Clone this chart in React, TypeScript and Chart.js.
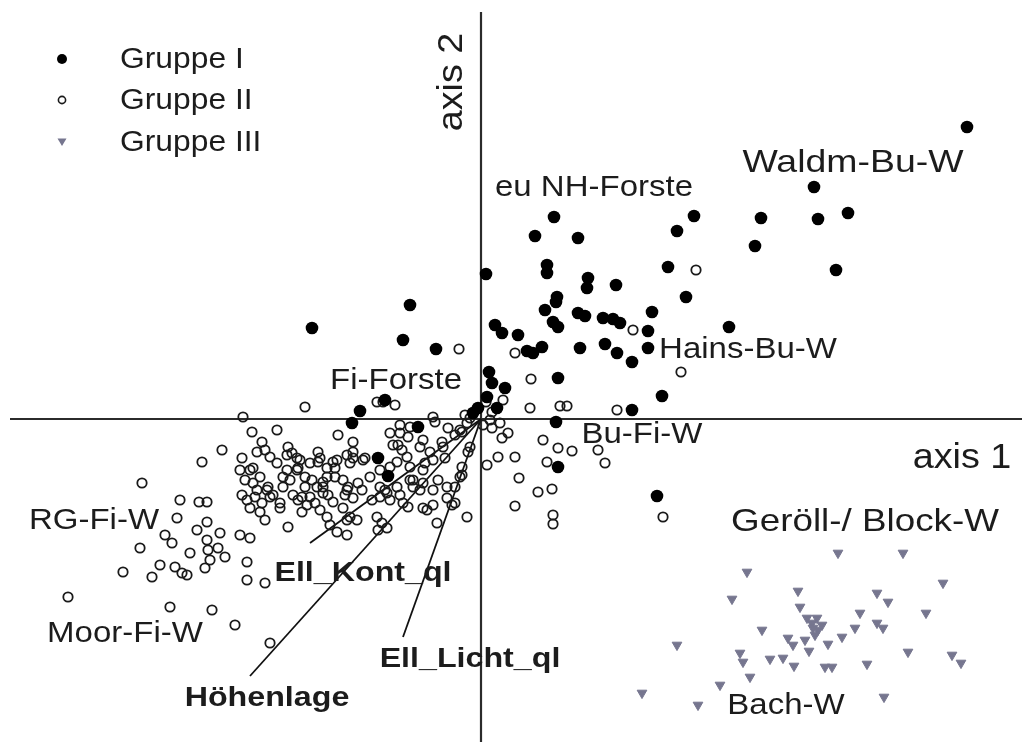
import { useEffect, useRef } from "react";
import { Chart, registerables } from "chart.js";

Chart.register(...registerables);

// Ordination scores (axis 1, axis 2) for the three plot groups
const gruppeI: [number, number][] = [
  [4.86, 2.92], [3.33, 2.32], [3.67, 2.06], [3.37, 2.0], [2.8, 2.01], [2.74, 1.73],
  [3.55, 1.49], [2.13, 2.03], [1.96, 1.88], [1.87, 1.52], [2.05, 1.22], [2.48, 0.92],
  [0.73, 2.02], [0.54, 1.83], [0.97, 1.81], [0.05, 1.45], [0.66, 1.54], [0.66, 1.46],
  [1.07, 1.41], [1.06, 1.31], [1.35, 1.34], [0.76, 1.22], [0.75, 1.17], [0.64, 1.09],
  [1.71, 1.07], [0.72, 0.97], [0.77, 0.92], [0.97, 1.06], [1.04, 1.03], [1.22, 1.01],
  [1.32, 1.0], [1.39, 0.96], [0.14, 0.94], [0.21, 0.86], [0.37, 0.84], [0.61, 0.72],
  [0.52, 0.66], [0.46, 0.68], [0.99, 0.71], [1.24, 0.75], [1.36, 0.66], [1.51, 0.57],
  [1.67, 0.88], [1.67, 0.71], [0.08, 0.47], [0.77, 0.41], [0.24, 0.31], [0.06, 0.22],
  [1.81, 0.23], [1.51, 0.09], [0.75, -0.03], [-0.71, 1.14], [-1.69, 0.91], [-0.78, 0.79],
  [-0.45, 0.7], [-1.21, 0.08], [-1.29, -0.04], [-1.03, -0.39], [-0.63, -0.08], [-0.96, 0.19],
  [-0.03, 0.11], [0.16, 0.11], [0.77, -0.48], [1.76, -0.77], [-0.08, 0.06], [0.11, 0.36],
  [-0.93, -0.57],
];

const gruppeII: [number, number][] = [
  // right of axis 2
  [2.15, 1.49], [2.0, 0.47], [-0.22, 0.7], [1.52, 0.89], [0.34, 0.66], [0.5, 0.4],
  [0.49, 0.11], [0.79, 0.13], [0.86, 0.13], [1.36, 0.09], [0.22, 0.19], [0.62, -0.21],
  [0.77, -0.29], [0.91, -0.32], [1.17, -0.31], [1.24, -0.44], [0.66, -0.43], [0.38, -0.59],
  [0.06, -0.46], [0.17, -0.38], [0.34, -0.38], [0.57, -0.73], [0.71, -0.7], [0.34, -0.87],
  [0.72, -0.96], [0.72, -1.05], [0.11, -0.09], [0.19, -0.04], [0.27, -0.14], [0.21, -0.19],
  [0.09, -0.01], [1.82, -0.98], [0.05, 0.17], [0.11, 0.07], [0.02, -0.06],
  // close to the origin, left side
  [-0.86, 0.14], [-0.46, -0.03], [-0.33, -0.09], [-0.14, -0.98], [-0.44, -1.04], [-0.58, -0.89],
  [-0.34, -0.68], [-0.26, -0.84], [-0.19, -0.56], [-0.11, -0.28], [-0.39, -0.23], [-0.36, -0.39],
  [-0.58, -0.51], [-0.71, -0.61], [-0.96, -0.71], [-0.81, -0.76], [-0.83, -0.26], [-0.21, -0.58],
  [-0.21, -0.11], [-0.16, 0.04], [-0.26, -0.16], [-0.48, 0.02],
  // main cluster
  [-2.38, 0.02], [-1.76, 0.12], [-1.04, 0.17], [-0.98, 0.17], [-2.29, -0.13], [-2.04, -0.11],
  [-2.59, -0.31], [-2.79, -0.43], [-1.43, -0.16], [-1.28, -0.23], [-0.91, -0.14], [-0.81, -0.14],
  [-0.71, -0.08], [-2.19, -0.23], [-2.16, -0.31], [-2.24, -0.33], [-2.39, -0.39], [-1.93, -0.28],
  [-1.89, -0.34], [-2.11, -0.38], [-2.04, -0.44], [-1.63, -0.33], [-1.61, -0.39], [-1.81, -0.41],
  [-1.83, -0.49], [-1.44, -0.41], [-1.46, -0.49], [-1.34, -0.36], [-1.28, -0.39], [-1.16, -0.39],
  [-0.88, -0.26], [-0.79, -0.31], [-0.61, -0.28], [-0.51, -0.33], [-0.56, -0.44], [-0.84, -0.43],
  [-0.71, -0.48], [-1.01, -0.51], [-1.11, -0.58], [-2.41, -0.51], [-2.31, -0.51], [-2.36, -0.61],
  [-2.28, -0.64], [-2.21, -0.58], [-2.13, -0.68], [-1.98, -0.58], [-1.91, -0.61], [-1.98, -0.68],
  [-1.76, -0.58], [-1.69, -0.61], [-1.76, -0.68], [-1.54, -0.58], [-1.58, -0.68], [-1.38, -0.61],
  [-1.33, -0.68], [-1.23, -0.64], [-1.19, -0.71], [-1.01, -0.68], [-0.94, -0.74], [-0.84, -0.68],
  [-0.68, -0.61], [-0.61, -0.71], [-0.48, -0.71], [-2.39, -0.76], [-2.34, -0.81], [-2.26, -0.78],
  [-2.19, -0.84], [-2.08, -0.76], [-2.01, -0.84], [-1.88, -0.76], [-1.83, -0.81], [-1.71, -0.78],
  [-1.66, -0.84], [-1.53, -0.76], [-1.48, -0.83], [-1.36, -0.76], [-1.28, -0.79], [-1.09, -0.81],
  [-1.01, -0.78], [-0.91, -0.81], [-0.78, -0.84], [-2.31, -0.89], [-2.21, -0.93], [-2.01, -0.89],
  [-1.79, -0.93], [-1.74, -0.86], [-1.61, -0.91], [-1.54, -0.98], [-1.38, -0.89], [-1.31, -0.98],
  [-1.24, -1.01], [-1.04, -0.98], [-0.99, -1.04], [-0.94, -1.09], [-0.73, -0.88], [-0.48, -0.86],
  [-2.16, -1.01], [-1.93, -1.08], [-1.51, -1.06], [-1.44, -1.13], [-1.34, -1.16], [-1.34, -1.01],
  [-1.03, -1.11], [-2.28, -0.49], [-2.24, -0.71], [-2.14, -0.71], [-2.11, -0.78], [-1.94, -0.36],
  [-1.84, -0.39], [-1.94, -0.51], [-1.84, -0.51], [-1.64, -0.68], [-1.58, -0.63], [-1.79, -0.78],
  [-1.58, -0.74], [-1.63, -0.43], [-1.71, -0.44], [-1.54, -0.49], [-1.48, -0.43], [-1.46, -0.58],
  [-1.34, -0.71], [-1.31, -0.44], [-1.28, -0.33], [-1.18, -0.41], [-0.81, -0.06], [-0.73, -0.18],
  [-0.58, -0.21], [-0.91, -0.48], [-0.74, -0.38], [-0.48, -0.41], [-0.43, -0.61], [-0.68, -0.68],
  [-0.58, -0.64], [-0.38, -0.28], [-0.19, -0.13], [-0.14, -0.04], [-0.11, 0.01], [-0.34, -0.79],
  [-0.54, -0.91], [-0.13, -0.33], [-0.19, -0.48], [-0.26, -0.68], [-0.29, -0.86],
  // lower left
  [-3.39, -0.64], [-3.01, -0.81], [-2.82, -0.83], [-2.74, -0.83], [-3.04, -0.99], [-2.84, -1.11],
  [-2.74, -1.03], [-3.16, -1.16], [-3.09, -1.24], [-3.41, -1.29], [-2.74, -1.21], [-2.73, -1.31],
  [-2.61, -1.14], [-2.41, -1.16], [-2.31, -1.19], [-2.91, -1.34], [-2.63, -1.29], [-2.56, -1.38],
  [-2.71, -1.41], [-3.21, -1.46], [-3.29, -1.58], [-3.06, -1.48], [-2.99, -1.54], [-2.94, -1.56],
  [-2.76, -1.49], [-3.58, -1.53], [-2.34, -1.43], [-2.34, -1.61], [-2.16, -1.64], [-4.13, -1.78],
  [-3.11, -1.88], [-2.69, -1.91], [-2.46, -2.06], [-2.11, -2.24],
];

const gruppeIII: [number, number][] = [
  [3.57, -1.34], [4.22, -1.34], [2.66, -1.53], [4.62, -1.64], [3.17, -1.72], [2.51, -1.8],
  [3.96, -1.74], [4.07, -1.83], [3.19, -1.88], [3.79, -1.94], [4.45, -1.94], [3.26, -1.99],
  [3.36, -1.99], [3.31, -2.04], [3.96, -2.04], [4.02, -2.09], [2.81, -2.11], [3.37, -2.11],
  [3.34, -2.16], [3.74, -2.09], [3.61, -2.18], [3.07, -2.19], [3.12, -2.26], [3.24, -2.21],
  [3.47, -2.25], [1.96, -2.26], [3.28, -2.32], [2.59, -2.34], [2.62, -2.43], [2.89, -2.4],
  [3.02, -2.39], [3.13, -2.47], [3.44, -2.48], [3.51, -2.48], [3.86, -2.45], [4.27, -2.33],
  [4.71, -2.36], [4.8, -2.44], [2.69, -2.58], [2.39, -2.66], [1.61, -2.74], [2.17, -2.86],
  [4.03, -2.78], [3.32, -2.09], [3.41, -2.06],
];

// Environmental vectors (biplot arrows from the origin)
const vectorNames = ["Höhenlage", "Ell_Kont_ql", "Ell_Licht_ql"];
const vectorEnds: [number, number][] = [
  [-2.31, -2.57],
  [-1.71, -1.24],
  [-0.78, -2.18],
];

// Plot extent and drawn axis lines
const axis1Range: [number, number] = [-4.81, 5.41];
const axis2Range: [number, number] = [-3.23, 4.19];
const axis1Line: [number, number] = [-4.71, 5.41];
const axis2Line: [number, number] = [-3.23, 4.07];

// Vegetation type labels: text, position, font size, horizontal stretch
const typeLabels = [
  "Waldm-Bu-W", "eu NH-Forste", "Hains-Bu-W", "Fi-Forste", "Bu-Fi-W",
  "RG-Fi-W", "Moor-Fi-W", "Geröll-/ Block-W", "Bach-W",
];
const typeLabelPos: [number, number][] = [
  [3.72, 2.56], [1.13, 2.31], [2.67, 0.69], [-0.85, 0.38], [1.61, -0.16],
  [-3.87, -1.02], [-3.56, -2.15], [3.84, -1.03], [3.05, -2.87],
];
const typeLabelSize = [32, 30, 30, 30, 30, 30, 30, 32, 30];
const typeLabelStretch = [1.17, 1.1, 1.1, 1.1, 1.1, 1.1, 1.1, 1.15, 1.1];
const vectorLabelPos: [number, number][] = [
  [-2.14, -2.79],
  [-1.18, -1.54],
  [-0.11, -2.4],
];
const legendNames = ["Gruppe I", "Gruppe II", "Gruppe III"];

const TRIANGLE_COLOR = "#76768f";
const TEXT_COLOR = "#1c1c1c";
const FONT = "'Liberation Sans', Arial, Helvetica, sans-serif";

const toPoints = (arr: [number, number][]) => arr.map(([x, y]) => ({ x, y }));

function stretchedText(
  ctx: CanvasRenderingContext2D,
  text: string,
  x: number,
  y: number,
  font: string,
  sx: number,
  angle = 0,
  align: CanvasTextAlign = "center"
) {
  ctx.save();
  ctx.translate(x, y);
  if (angle) ctx.rotate(angle);
  ctx.scale(sx, 1);
  ctx.font = font;
  ctx.fillStyle = TEXT_COLOR;
  ctx.textAlign = align;
  ctx.textBaseline = "middle";
  ctx.fillText(text, 0, 0);
  ctx.restore();
}

const annotationPlugin = {
  id: "ordinationAnnotations",
  afterDatasetsDraw(chart: any) {
    const { ctx, scales } = chart;
    const sx = scales.x;
    const sy = scales.y;

    typeLabels.forEach((t, i) => {
      const [x, y] = typeLabelPos[i];
      stretchedText(
        ctx, t, sx.getPixelForValue(x), sy.getPixelForValue(y),
        `${typeLabelSize[i]}px ${FONT}`, typeLabelStretch[i]
      );
    });
    vectorNames.forEach((t, i) => {
      const [x, y] = vectorLabelPos[i];
      stretchedText(ctx, t, sx.getPixelForValue(x), sy.getPixelForValue(y), `bold 28px ${FONT}`, 1.15);
    });

    // axis titles
    const axisFont = `35px ${FONT}`;
    stretchedText(ctx, "axis 1", sx.getPixelForValue(4.81), sy.getPixelForValue(-0.39), axisFont, 1.08);
    stretchedText(ctx, "axis 2", sx.getPixelForValue(-0.29), sy.getPixelForValue(3.37), axisFont, 1.08, -Math.PI / 2);

    // legend
    const left = chart.chartArea.left;
    const top = chart.chartArea.top;
    const markerX = left + 62;
    const rows = [59, 100, 142];
    ctx.save();
    ctx.beginPath();
    ctx.arc(markerX, top + rows[0], 5, 0, Math.PI * 2);
    ctx.fillStyle = "#000";
    ctx.fill();
    ctx.beginPath();
    ctx.arc(markerX, top + rows[1], 3.6, 0, Math.PI * 2);
    ctx.lineWidth = 1.6;
    ctx.strokeStyle = "#1a1a1a";
    ctx.stroke();
    const ty = top + rows[2];
    ctx.beginPath();
    ctx.moveTo(markerX - 4.5, ty - 3.5);
    ctx.lineTo(markerX + 4.5, ty - 3.5);
    ctx.lineTo(markerX, ty + 4);
    ctx.closePath();
    ctx.fillStyle = TRIANGLE_COLOR;
    ctx.fill();
    ctx.restore();

    legendNames.forEach((t, i) => {
      stretchedText(ctx, t, left + 120, top + rows[i] + 1, `30px ${FONT}`, 1.06, 0, "left");
    });
  },
};

export default function App() {
  const canvasRef = useRef<HTMLCanvasElement | null>(null);

  useEffect(() => {
    if (!canvasRef.current) return;

    const lineDs = (data: { x: number; y: number }[], color: string, width: number, order: number) => ({
      type: "line" as const,
      data,
      borderColor: color,
      borderWidth: width,
      pointRadius: 0,
      fill: false,
      showLine: true,
      order,
    });

    const datasets: any[] = [
      lineDs([{ x: axis1Line[0], y: 0 }, { x: axis1Line[1], y: 0 }], "#2b2b2b", 2.2, 20),
      lineDs([{ x: 0, y: axis2Line[0] }, { x: 0, y: axis2Line[1] }], "#2b2b2b", 2.2, 20),
      ...vectorEnds.map(([x, y]) => lineDs([{ x: 0, y: 0 }, { x, y }], "#111", 1.8, 15)),
      {
        label: legendNames[1],
        data: toPoints(gruppeII),
        pointStyle: "circle",
        pointRadius: 4.7,
        pointBackgroundColor: "rgba(0,0,0,0)",
        pointBorderColor: "#1a1a1a",
        pointBorderWidth: 1.8,
        order: 3,
      },
      {
        label: legendNames[2],
        data: toPoints(gruppeIII),
        pointStyle: "triangle",
        rotation: 180,
        pointRadius: 5.6,
        pointBackgroundColor: TRIANGLE_COLOR,
        pointBorderColor: TRIANGLE_COLOR,
        pointBorderWidth: 1,
        order: 2,
      },
      {
        label: legendNames[0],
        data: toPoints(gruppeI),
        pointStyle: "circle",
        pointRadius: 6.3,
        pointBackgroundColor: "#000",
        pointBorderColor: "#000",
        pointBorderWidth: 0,
        order: 1,
      },
    ];

    const chart = new Chart(canvasRef.current, {
      type: "scatter",
      data: { datasets },
      options: {
        animation: false,
        responsive: false,
        devicePixelRatio: 1,
        layout: { padding: 0, autoPadding: false },
        events: [],
        scales: {
          x: { type: "linear", min: axis1Range[0], max: axis1Range[1], display: false },
          y: { type: "linear", min: axis2Range[0], max: axis2Range[1], display: false },
        },
        plugins: {
          legend: { display: false },
          tooltip: { enabled: false },
        },
      },
      plugins: [annotationPlugin],
    } as any);

    return () => chart.destroy();
  }, []);

  return (
    <div
      style={{
        position: "absolute",
        left: 0,
        top: 0,
        width: 1022,
        height: 742,
        background: "#fff",
        overflow: "hidden",
      }}
    >
      <canvas ref={canvasRef} width={1022} height={742} style={{ display: "block" }} />
    </div>
  );
}
